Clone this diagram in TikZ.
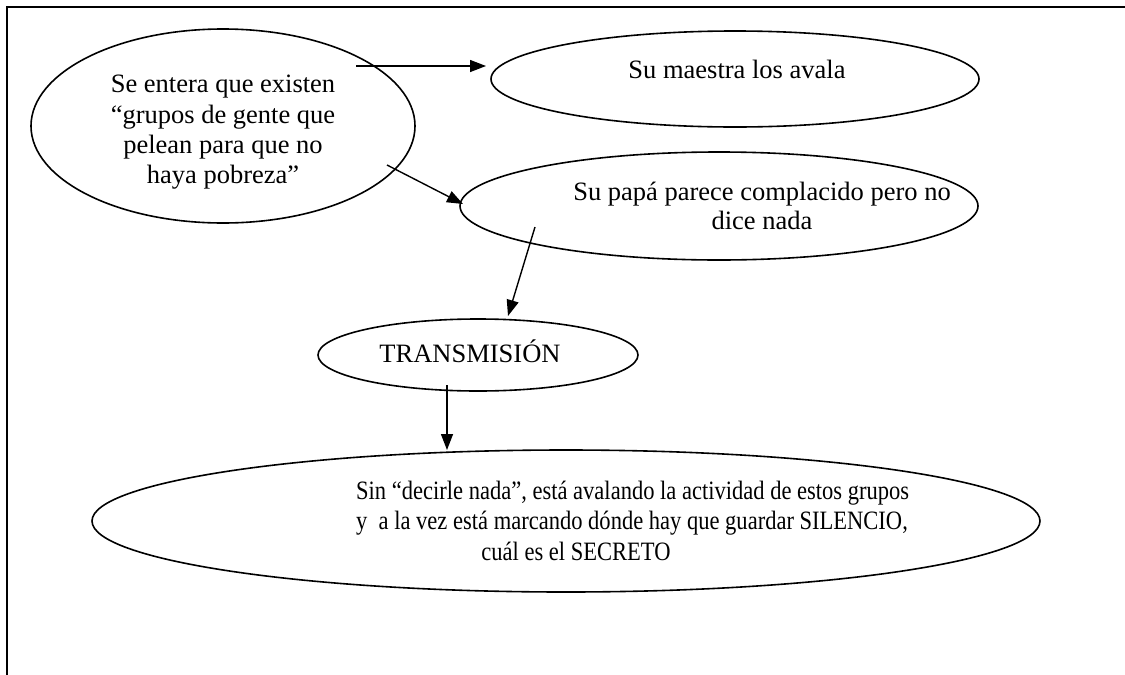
\documentclass[tikz,border=0pt]{standalone}
\usepackage{fontspec}
\setmainfont{Liberation Serif}
\newfontfamily\condserif[FakeStretch=0.85]{Liberation Serif}
\usetikzlibrary{shapes.geometric,arrows.meta}
\begin{document}
\begin{tikzpicture}[x=1pt,y=-1pt,
  oval/.style={draw,ellipse,line width=1.6pt,inner sep=0pt,outer sep=0pt},
  txt/.style={font=\fontsize{26.5}{31}\selectfont,inner sep=0pt,anchor=base},
  ctxt/.style={font=\condserif\fontsize{26.5}{31}\selectfont,inner sep=0pt,anchor=base},
  ctxtl/.style={ctxt,anchor=base west},
  arr/.style={line width=1.4pt,-{Triangle[length=16pt,width=12pt]}},
  framel/.style={line width=2pt}]
\useasboundingbox (0,0) rectangle (1125,675);
% frame (top and left edges only visible)
\coordinate (fl) at (6.5,675);
\coordinate (ftl) at (6.5,7);
\coordinate (ftr) at (1125,7);
\draw[framel] (fl) -- (ftl) -- (ftr);
% ellipses
\node[oval,minimum width=384pt,minimum height=194pt] (A) at (223,126) {};
\node[oval,minimum width=488pt,minimum height=96pt] (B) at (735,79) {};
\node[oval,minimum width=518pt,minimum height=108pt] (C) at (719,206) {};
\node[oval,minimum width=320pt,minimum height=72pt] (D) at (478,355) {};
\node[oval,minimum width=948pt,minimum height=142pt] (E) at (566,521) {};
% texts
\node[txt] (a1) at (223,92) {Se entera que existen};
\node[txt] (a2) at (223,123) {“grupos de gente que};
\node[txt] (a3) at (223,153) {pelean para que no};
\node[txt] (a4) at (223,183) {haya pobreza”};
\node[txt] (b1) at (737,78) {Su maestra los avala};
\node[txt] (c1) at (762,200) {Su papá parece complacido pero no};
\node[txt] (c2) at (762,229) {dice nada};
\node[txt] (d1) at (470,362) {TRANSMISIÓN};
\node[ctxtl] (e1) at (356,499) {Sin “decirle nada”, está avalando la actividad de estos grupos};
\node[ctxtl] (e2) at (356,529) {y\ \ a la vez está marcando dónde hay que guardar SILENCIO,};
\node[ctxt] (e3) at (576,560) {cuál es el SECRETO};
% connectors
\coordinate (s1) at (356,66);
\coordinate (t1) at (486,66);
\coordinate (s2) at (387,165);
\coordinate (t2) at (463,204);
\coordinate (s3) at (535,227);
\coordinate (t3) at (508,316);
\coordinate (s4) at (447,385);
\coordinate (t4) at (447,450);
\draw[arr] (s1) -- (t1);
\draw[arr] (s2) -- (t2);
\draw[arr] (s3) -- (t3);
\draw[arr] (s4) -- (t4);
\end{tikzpicture}
\end{document}
